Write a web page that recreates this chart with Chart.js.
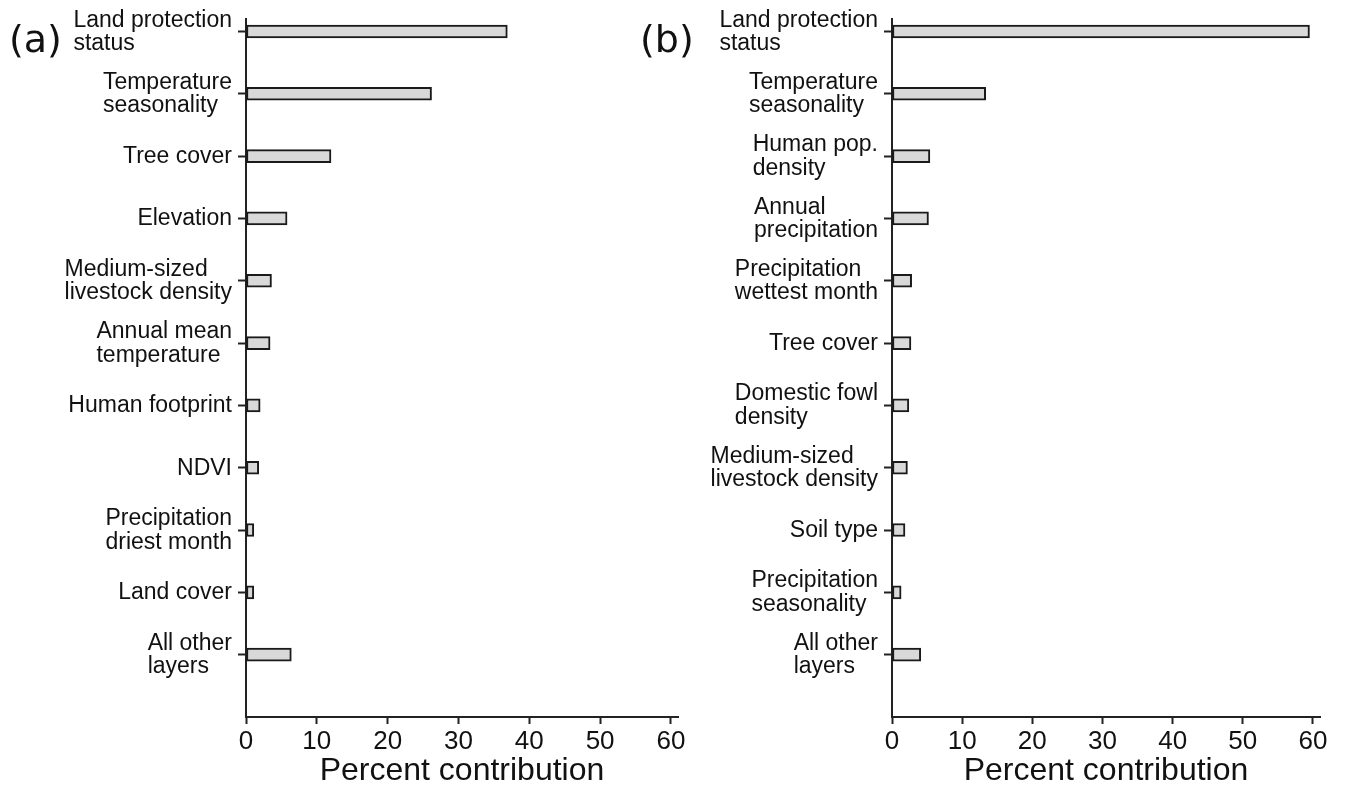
<!DOCTYPE html>
<html>
<head>
<meta charset="utf-8">
<script src="https://cdn.jsdelivr.net/npm/chart.js@4"></script>
<style>
  body { margin: 0; background: #fff; }
  #wrap { position: relative; width: 1346px; height: 788px; }
  canvas { position: absolute; top: 0; }
</style>
</head>
<body>
<div id="wrap">
  <canvas id="chartA" width="700" height="788" style="left:0"></canvas>
  <canvas id="chartB" width="746" height="788" style="left:600px"></canvas>
</div>
<script>
// panel (a)
const catsA = [['Land protection', 'status'], ['Temperature', 'seasonality'], ['Tree cover'], ['Elevation'],
  ['Medium-sized', 'livestock density'], ['Annual mean', 'temperature'], ['Human footprint'], ['NDVI'],
  ['Precipitation', 'driest month'], ['Land cover'], ['All other', 'layers']];
const valsA = [36.9, 26.2, 12.0, 5.8, 3.6, 3.4, 2.0, 1.8, 1.1, 1.1, 6.4];

// panel (b)
const catsB = [['Land protection', 'status'], ['Temperature', 'seasonality'], ['Human pop.', 'density'],
  ['Annual', 'precipitation'], ['Precipitation', 'wettest month'], ['Tree cover'], ['Domestic fowl', 'density'],
  ['Medium-sized', 'livestock density'], ['Soil type'], ['Precipitation', 'seasonality'], ['All other', 'layers']];
const valsB = [59.5, 13.35, 5.4, 5.2, 2.8, 2.7, 2.4, 2.2, 1.85, 1.3, 4.1];

const xTicks = [0, 10, 20, 30, 40, 50, 60];
const xTitle = 'Percent contribution';

const FONT = '"Liberation Sans", Arial, Helvetica, sans-serif';
const INK = '#111';
const AXIS = '#222';

// category labels: block right-aligned to the axis, lines left-aligned inside it
const catLabels = {
  id: 'catLabels',
  afterDraw(chart, args, opts) {
    const ys = chart.scales.y, ctx = chart.ctx;
    ctx.save();
    ctx.fillStyle = INK;
    ctx.font = '23px ' + FONT;
    ctx.textAlign = 'left';
    ctx.textBaseline = 'middle';
    ys.ticks.forEach(t => {
      const lines = opts.cats[t.value];
      if (!lines) return;
      const w = Math.max(...lines.map(l => ctx.measureText(l).width));
      const x0 = ys.right - 14 - w;
      const yc = ys.getPixelForValue(t.value) + 0.5;
      lines.forEach((l, j) => ctx.fillText(l, x0, yc + (j - (lines.length - 1) / 2) * 23.5));
    });
    ctx.font = '38px "DejaVu Sans"';
    ctx.textBaseline = 'alphabetic';
    ctx.fillText(opts.tag, opts.tagX, 52);
    ctx.restore();
  }
};

function makePanel(id, cats, vals, tag, tagX, yWidth, padRight) {
  new Chart(document.getElementById(id), {
    type: 'bar',
    data: {
      datasets: [{
        data: vals.map((v, i) => ({ x: v, y: i })),
        backgroundColor: '#d9d9d9',
        borderColor: '#1a1a1a',
        borderWidth: 2,
        borderSkipped: false,
        barThickness: 13
      }]
    },
    options: {
      indexAxis: 'y',
      responsive: false,
      animation: false,
      layout: { padding: { left: 0, top: 19, right: padRight, bottom: 0 } },
      plugins: {
        legend: { display: false },
        tooltip: { enabled: false },
        catLabels: { cats, tag, tagX }
      },
      scales: {
        x: {
          type: 'linear',
          min: 0,
          max: 61,
          afterBuildTicks(s) { s.ticks = xTicks.map(v => ({ value: v })); },
          ticks: { font: { size: 26, family: FONT }, color: INK, padding: 2, maxRotation: 0 },
          grid: { drawOnChartArea: false, drawTicks: true, tickLength: 7, tickColor: AXIS, tickWidth: 2 },
          border: { display: true, color: AXIS, width: 2 },
          title: { display: true, text: xTitle, font: { size: 32, family: FONT }, color: INK, padding: { top: 0, bottom: -2 } },
          afterFit(s) { s.height = 71; }
        },
        y: {
          type: 'linear',
          min: -0.2,
          max: 11,
          reverse: true,
          offset: false,
          afterBuildTicks(s) { s.ticks = cats.map((c, i) => ({ value: i })); },
          ticks: { display: false },
          grid: { offset: false, drawOnChartArea: false, drawTicks: true, tickLength: 8, tickColor: AXIS, tickWidth: 2 },
          border: { display: true, color: AXIS, width: 2 },
          afterFit(s) { s.width = yWidth; }
        }
      }
    },
    plugins: [catLabels]
  });
}

makePanel('chartA', catsA, valsA, '(a)', 9, 246, 22);
makePanel('chartB', catsB, valsB, '(b)', 40, 292, 26);
</script>
</body>
</html>
